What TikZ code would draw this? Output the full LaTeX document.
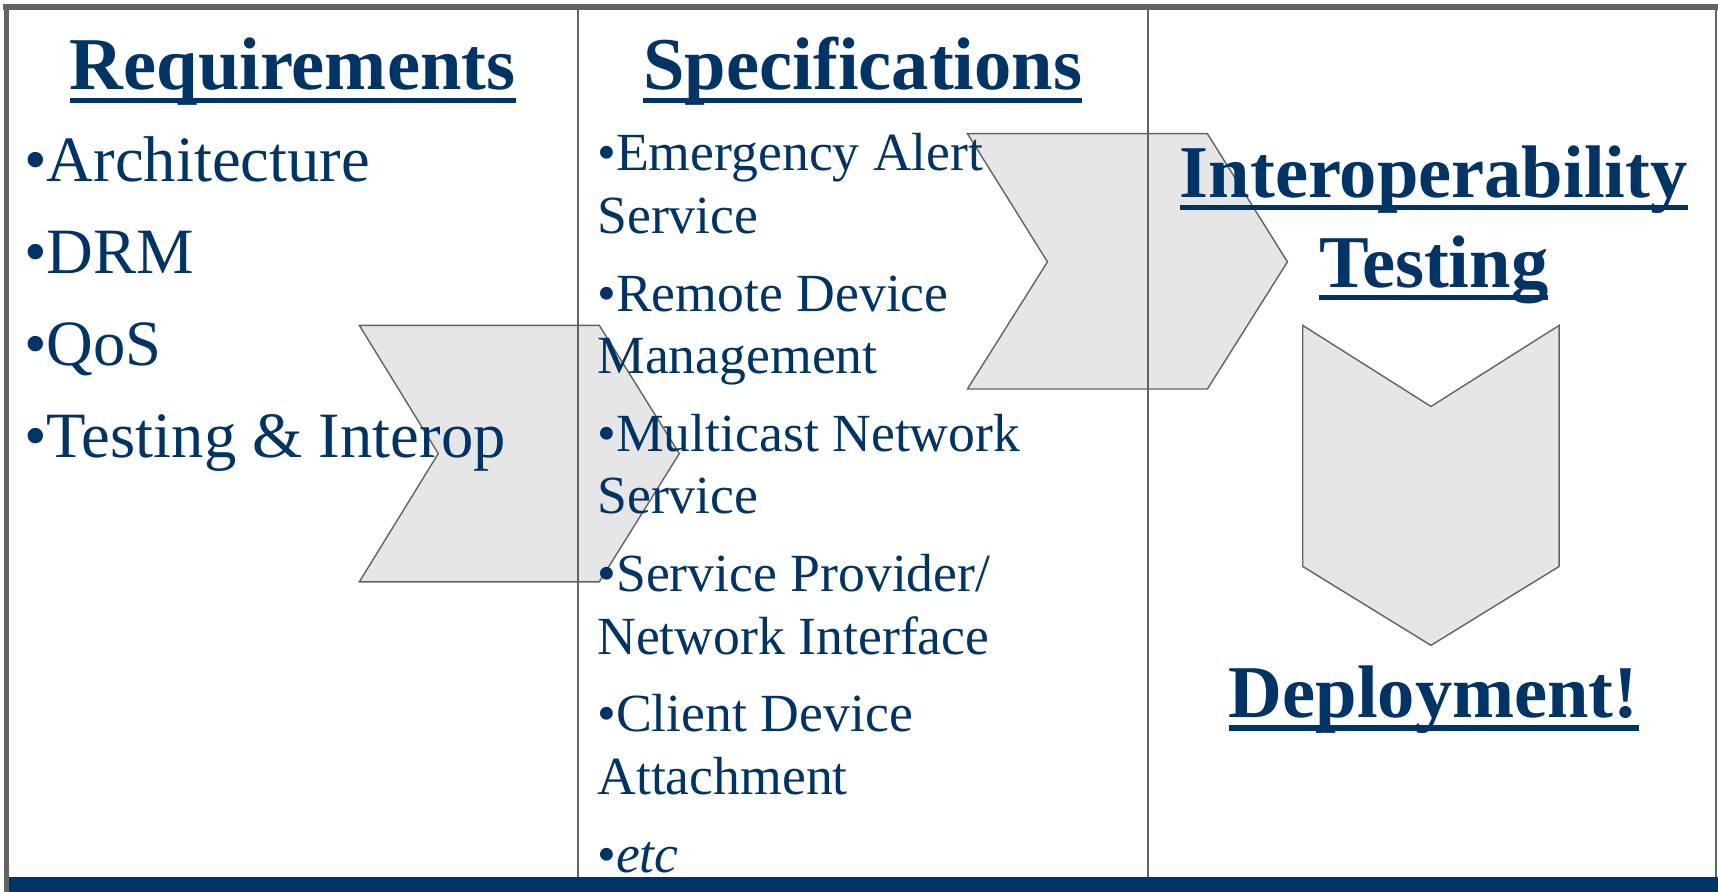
\documentclass[tikz,border=0pt]{standalone}
\usepackage{fontspec}
\setmainfont{Liberation Serif}
\usetikzlibrary{positioning}

\definecolor{navy}{RGB}{0,51,102}
\definecolor{framegray}{RGB}{100,100,100}
\definecolor{chevfill}{RGB}{230,230,230}

\tikzset{
  chevron/.style={draw=framegray, fill=chevfill, line width=1.3pt, line join=miter},
  divider/.style={draw=framegray, line width=2pt},
  title/.style={anchor=base, inner sep=0pt, text=navy, font=\fontsize{68}{80}\selectfont\bfseries},
  bigitem/.style={anchor=base west, inner sep=0pt, text=navy, font=\fontsize{59}{70}\selectfont},
  item/.style={anchor=base west, inner sep=0pt, text=navy, font=\fontsize{49}{57}\selectfont},
  uline/.style={navy, line width=5pt},
}

\begin{document}
\begin{tikzpicture}[x=1pt, y=-1pt]
  \useasboundingbox (0,0) rectangle (1568,814);

  % Chevrons (behind everything)
  \draw[chevron] (328,297) -- (547,297) -- (620,414) -- (547,531) -- (328,531) -- (400,414) -- cycle;
  \draw[chevron] (883,122) -- (1102,122) -- (1175,239) -- (1102,355) -- (883,355) -- (956,239) -- cycle;
  \draw[chevron] (1189,297) -- (1306,371) -- (1423,297) -- (1423,517) -- (1306,589) -- (1189,517) -- cycle;

  % Frame and columns
  \draw[framegray, line width=5pt] (3,6.5) -- (1568,6.5);
  \draw[framegray, line width=5pt] (6,4) -- (6,814);
  \draw[framegray, line width=2pt] (1566,4) -- (1566,814);
  \draw[divider] (527.5,8) -- (527.5,814);
  \draw[divider] (1048,8) -- (1048,814);
  \fill[navy] (8,800) rectangle (1568,814);

  % Column titles
  \node[title] (req) at (267,82) {Requirements};
  \node[title] (spec) at (787.5,82) {Specifications};
  \node[title] (interop) at (1308.5,180) {Interoperability};
  \node[title] (testing) at (1308.5,262) {Testing};
  \node[title] (deploy) at (1308.5,655) {Deployment!};
  \foreach \n in {req,spec,interop,testing,deploy}
    \draw[uline] ([yshift=-9.5pt]\n.base west) -- ([yshift=-9.5pt]\n.base east);

  % Requirements list
  \node[bigitem] (arch) at (22,166) {•Architecture};
  \node[bigitem] (drm) at (22,250) {•DRM};
  \node[bigitem] (qos) at (22,334) {•QoS};
  \node[bigitem] (testint) at (22,418) {•Testing \& Interop};

  % Specifications list
  \node[item] (ema1) at (545,156) {•Emergency Alert};
  \node[item] (ema2) at (545,213) {Service};
  \node[item] (rdm1) at (545,284) {•Remote Device};
  \node[item] (rdm2) at (545,341) {Management};
  \node[item] (mns1) at (545,412) {•Multicast Network};
  \node[item] (mns2) at (545,469) {Service};
  \node[item] (spni1) at (545,540) {•Service Provider/};
  \node[item] (spni2) at (545,597) {Network Interface};
  \node[item] (cda1) at (545,668) {•Client Device};
  \node[item] (cda2) at (545,725) {Attachment};
  \node[item] (etc) at (545,796) {•\textit{etc}};
\end{tikzpicture}
\end{document}
